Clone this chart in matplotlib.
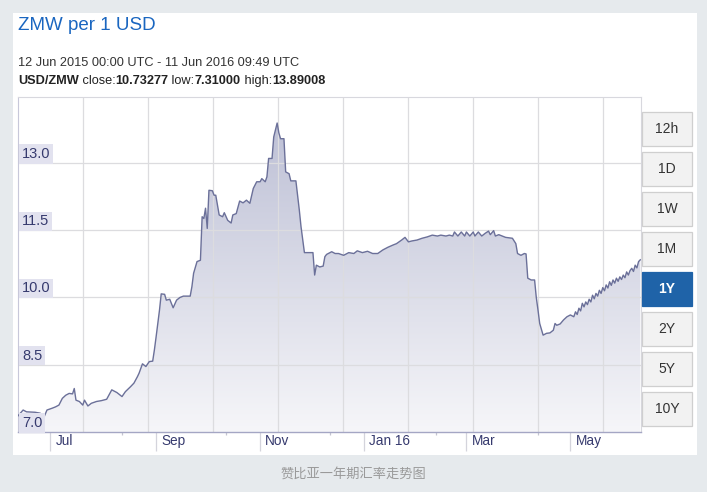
import numpy as np
import pandas as pd
import matplotlib
matplotlib.use("Agg")
import matplotlib.pyplot as plt
import matplotlib.dates as mdates
import matplotlib.transforms as mtransforms
from matplotlib.patches import Rectangle
from matplotlib.colors import LinearSegmentedColormap

# ---------------------------------------------------------------- datos
fechas = [
    "2015-06-12", "2015-06-15", "2015-06-17", "2015-06-22", "2015-06-25", "2015-06-27",
    "2015-06-28", "2015-06-29", "2015-07-02", "2015-07-04", "2015-07-06", "2015-07-08",
    "2015-07-10", "2015-07-12", "2015-07-14", "2015-07-15", "2015-07-16", "2015-07-18",
    "2015-07-20", "2015-07-21", "2015-07-23", "2015-07-25", "2015-07-28", "2015-07-31",
    "2015-08-03", "2015-08-06", "2015-08-09", "2015-08-12", "2015-08-14", "2015-08-17",
    "2015-08-19", "2015-08-21", "2015-08-22", "2015-08-24", "2015-08-26", "2015-08-28",
    "2015-08-30", "2015-08-31", "2015-09-01", "2015-09-03", "2015-09-04", "2015-09-06",
    "2015-09-07", "2015-09-09", "2015-09-11", "2015-09-13", "2015-09-15", "2015-09-17",
    "2015-09-21", "2015-09-22", "2015-09-23", "2015-09-25", "2015-09-27", "2015-09-28",
    "2015-09-29", "2015-09-30", "2015-10-01", "2015-10-02", "2015-10-04", "2015-10-05",
    "2015-10-06", "2015-10-08", "2015-10-10", "2015-10-11", "2015-10-13", "2015-10-15",
    "2015-10-16", "2015-10-18", "2015-10-20", "2015-10-22", "2015-10-24", "2015-10-26",
    "2015-10-28", "2015-10-30", "2015-11-01", "2015-11-02", "2015-11-04", "2015-11-05",
    "2015-11-06", "2015-11-08", "2015-11-09", "2015-11-11", "2015-11-12", "2015-11-13",
    "2015-11-15", "2015-11-16", "2015-11-18", "2015-11-19", "2015-11-22", "2015-11-24",
    "2015-11-25", "2015-11-27", "2015-12-02", "2015-12-03", "2015-12-04", "2015-12-06",
    "2015-12-08", "2015-12-09", "2015-12-10", "2015-12-13", "2015-12-15", "2015-12-17",
    "2015-12-20", "2015-12-23", "2015-12-26", "2015-12-28", "2015-12-31", "2016-01-03",
    "2016-01-06", "2016-01-09", "2016-01-12", "2016-01-15", "2016-01-18", "2016-01-20",
    "2016-01-23", "2016-01-25", "2016-01-27", "2016-01-29", "2016-02-01", "2016-02-04",
    "2016-02-07", "2016-02-10", "2016-02-13", "2016-02-15", "2016-02-18", "2016-02-20",
    "2016-02-22", "2016-02-23", "2016-02-25", "2016-02-27", "2016-02-29", "2016-03-01",
    "2016-03-03", "2016-03-05", "2016-03-06", "2016-03-08", "2016-03-10", "2016-03-12",
    "2016-03-14", "2016-03-15", "2016-03-17", "2016-03-18", "2016-03-20", "2016-03-22",
    "2016-03-24", "2016-03-28", "2016-03-30", "2016-03-31", "2016-04-02", "2016-04-04",
    "2016-04-05", "2016-04-06", "2016-04-08", "2016-04-10", "2016-04-11", "2016-04-12",
    "2016-04-13", "2016-04-15", "2016-04-17", "2016-04-19", "2016-04-21", "2016-04-22",
    "2016-04-23", "2016-04-25", "2016-04-27", "2016-04-29", "2016-05-01", "2016-05-03",
    "2016-05-04", "2016-05-05", "2016-05-06", "2016-05-07", "2016-05-08", "2016-05-09",
    "2016-05-10", "2016-05-11", "2016-05-12", "2016-05-13", "2016-05-14", "2016-05-15",
    "2016-05-16", "2016-05-17", "2016-05-18", "2016-05-19", "2016-05-20", "2016-05-21",
    "2016-05-22", "2016-05-23", "2016-05-24", "2016-05-25", "2016-05-26", "2016-05-27",
    "2016-05-28", "2016-05-29", "2016-05-30", "2016-05-31", "2016-06-01", "2016-06-02",
    "2016-06-03", "2016-06-04", "2016-06-05", "2016-06-06", "2016-06-07", "2016-06-08",
    "2016-06-09", "2016-06-10", "2016-06-11",
]
tasas = [
    7.36, 7.49, 7.45, 7.44, 7.42, 7.31,
    7.40, 7.49, 7.53, 7.56, 7.60, 7.75,
    7.82, 7.86, 7.85, 7.97, 7.71, 7.68,
    7.60, 7.71, 7.58, 7.64, 7.68, 7.70,
    7.73, 7.94, 7.88, 7.79, 7.90, 8.01,
    8.09, 8.23, 8.31, 8.52, 8.46, 8.57,
    8.58, 8.83, 9.12, 9.72, 10.08, 10.07,
    9.94, 9.96, 9.77, 9.94, 10.00, 10.03,
    10.03, 10.24, 10.54, 10.80, 10.83, 11.80,
    11.76, 11.99, 11.54, 12.39, 12.38, 12.28,
    12.28, 11.84, 11.80, 11.89, 11.72, 11.66,
    11.84, 11.87, 12.15, 12.11, 12.17, 12.10,
    12.43, 12.58, 12.58, 12.65, 12.58, 12.69,
    13.10, 13.10, 13.58, 13.89, 13.67, 13.54,
    13.54, 12.80, 12.76, 12.60, 12.60, 11.95,
    11.58, 11.00, 11.00, 10.50, 10.72, 10.68,
    10.70, 10.91, 10.96, 11.02, 10.98, 10.98,
    10.94, 11.00, 10.98, 11.04, 11.00, 11.03,
    10.98, 10.98, 11.06, 11.12, 11.17, 11.20,
    11.28, 11.34, 11.24, 11.26, 11.28, 11.32,
    11.35, 11.39, 11.37, 11.39, 11.37, 11.39,
    11.37, 11.46, 11.37, 11.46, 11.37, 11.46,
    11.37, 11.46, 11.37, 11.46, 11.37, 11.43,
    11.48, 11.40, 11.49, 11.37, 11.40, 11.37,
    11.34, 11.32, 11.20, 10.98, 10.94, 10.98,
    10.97, 10.43, 10.39, 10.39, 10.00, 9.72,
    9.42, 9.16, 9.20, 9.21, 9.27, 9.42,
    9.38, 9.41, 9.50, 9.57, 9.61, 9.57,
    9.68, 9.62, 9.76, 9.70, 9.87, 9.79,
    9.90, 9.84, 9.96, 9.90, 10.05, 9.97,
    10.09, 10.03, 10.16, 10.09, 10.22, 10.15,
    10.28, 10.21, 10.35, 10.27, 10.39, 10.32,
    10.43, 10.36, 10.46, 10.40, 10.50, 10.44,
    10.57, 10.50, 10.60, 10.65, 10.58, 10.72,
    10.66, 10.80, 10.84,
]

y_ticks = [7.0, 8.5, 10.0, 11.5, 13.0]
meses_fechas = ["2015-07-01", "2015-09-01", "2015-11-01", "2016-01-01", "2016-03-01", "2016-05-01"]
meses_etiquetas = ["Jul", "Sep", "Nov", "Jan 16", "Mar", "May"]
menores_fechas = ["2015-08-12", "2015-10-12", "2015-12-12", "2016-02-12", "2016-04-12"]
botones = ["12h", "1D", "1W", "1M", "1Y", "2Y", "5Y", "10Y"]
boton_activo = "1Y"

titulo = "ZMW per 1 USD"
rango = "12 Jun 2015 00:00 UTC - 11 Jun 2016 09:49 UTC"
resumen = [("USD/ZMW", "bold"), (" close:", "normal"), ("10.73277", "bold"),
           (" low:", "normal"), ("7.31000", "bold"), (" high:", "normal"), ("13.89008", "bold")]
pie = "赞比亚一年期汇率走势图"

# ---------------------------------------------------------------- figura
W, H = 707, 492
plt.rcParams['font.family'] = ['Liberation Sans', 'DejaVu Sans']
fig = plt.figure(figsize=(W / 100, H / 100), dpi=100, facecolor="#e6eaed")

def fx(px):
    return px / W

def fy(py):
    return 1 - py / H

# panel blanco (detras de todo)
fig.patches.append(Rectangle((fx(13), fy(455)), fx(697) - fx(13), fy(13) - fy(455),
                             transform=fig.transFigure, facecolor="white", edgecolor="none", zorder=-5))

L, R, T, B = 18, 641, 97, 432
ax = fig.add_axes([fx(L), fy(B), fx(R) - fx(L), fy(T) - fy(B)])
ax.set_facecolor("none")
ax.set_zorder(2)

x = pd.to_datetime(fechas)
y = np.array(tasas)
x0 = pd.Timestamp("2015-06-12")
x1 = pd.Timestamp("2016-06-11 10:00")
ymin, ymax = 7.0, 14.47

# relleno con degradado
poly = ax.fill_between(x, y, ymin, color="none", lw=0)
grad = np.linspace(0, 1, 256).reshape(-1, 1)
cmap = LinearSegmentedColormap.from_list("g", ["#f6f6f9", "#b9bcd3"])
im = ax.imshow(grad, extent=[mdates.date2num(x0), mdates.date2num(x1), ymin, ymax],
               aspect="auto", origin="lower", cmap=cmap, zorder=1)
im.set_clip_path(poly.get_paths()[0], transform=ax.transData)

# rejilla
for v in y_ticks[1:]:
    ax.axhline(v, color="#dcdcdf", lw=0.9, zorder=2)
for k in range(1, 10):
    f = k * 65 / (R - L)
    ax.plot([f, f], [0, 1], transform=ax.transAxes, color="#dcdcdf", lw=0.9, zorder=2)

ax.plot(x, y, color="#6b7099", lw=1.0, zorder=3)

ax.set_xlim(x0, x1)
ax.set_ylim(ymin, ymax)

# ejes
for s in ["top", "right"]:
    ax.spines[s].set_color("#d8d8de")
    ax.spines[s].set_linewidth(0.8)
ax.spines["left"].set_color("#c8c8da")
ax.spines["bottom"].set_color("#a4a6c4")
ax.spines["bottom"].set_linewidth(1.0)
ax.set_yticks([])

ax.set_xticks(pd.to_datetime(meses_fechas))
ax.set_xticks(pd.to_datetime(menores_fechas), minor=True)
ax.tick_params(axis="x", which="major", length=14, color="#d4d4dc", width=0.9, labelbottom=False)
ax.tick_params(axis="x", which="minor", length=2.5, color="#c4c4d0", width=0.9, labelbottom=False)

# etiquetas del eje x, a la derecha de cada marca
trans_x = mtransforms.offset_copy(ax.get_xaxis_transform(), fig=fig, x=5, y=-9, units="dots")
for d, lab in zip(meses_fechas, meses_etiquetas):
    ax.text(pd.Timestamp(d), 0, lab, transform=trans_x, ha="left", va="center",
            fontsize=9.8, color="#363a6e")

# etiquetas del eje y, dentro del grafico
trans_y = mtransforms.offset_copy(ax.get_yaxis_transform(), fig=fig, x=4, y=9, units="dots")
for v in y_ticks:
    ax.text(0, v, f"{v:.1f}", transform=trans_y, ha="left", va="center", fontsize=10.5,
            color="#363a6e", zorder=4,
            bbox=dict(boxstyle="square,pad=0.18", facecolor="#e2e2ef", edgecolor="none"))

# titulos
fig.text(fx(18), fy(25), titulo, fontsize=13.5, color="#1a66c0", ha="left", va="center")
fig.text(fx(18), fy(63), rango, fontsize=9.2, color="#333333", ha="left", va="center")

r = fig.canvas.get_renderer()
xp = 18
for txt, w in resumen:
    t = fig.text(fx(xp), fy(81), txt, fontsize=9.2, fontweight=w, color="#222222",
                 ha="left", va="center")
    xp += t.get_window_extent(renderer=r).width

# botones del periodo
for i, b in enumerate(botones):
    top = 111.7 + 40 * i
    activo = b == boton_activo
    fig.patches.append(Rectangle((fx(642.3), fy(top + 34.5)), fx(691.7) - fx(642.3), 34.5 / H,
                                 transform=fig.transFigure,
                                 facecolor="#1f63a8" if activo else "#f2f2f2",
                                 edgecolor="#1f63a8" if activo else "#cfcfcf", lw=0.9, zorder=3))
    fig.text(fx(667), fy(top + 17.5), b, fontsize=10, ha="center", va="center", zorder=4,
             color="white" if activo else "#333333", fontweight="bold" if activo else "normal")

# pie de figura
fig.text(0.5, fy(474), pie, fontsize=9.5, color="#9a9a9a", style="italic",
         ha="center", va="center", family=["Noto Sans CJK SC", "DejaVu Sans"])

fig.savefig("out.png", dpi=100, facecolor=fig.get_facecolor())
